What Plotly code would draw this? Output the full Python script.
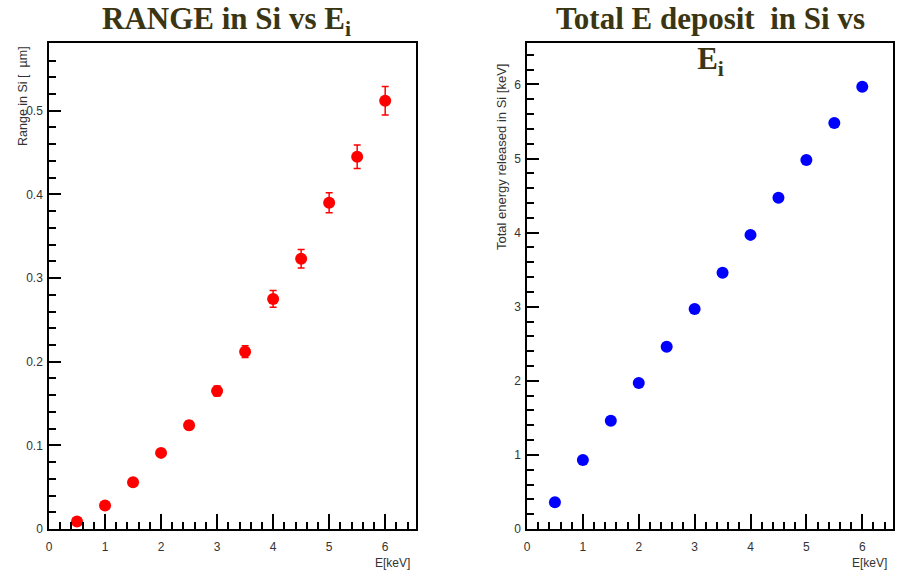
import plotly.graph_objects as go

# ---- data ----
energy = [0.5, 1.0, 1.5, 2.0, 2.5, 3.0, 3.5, 4.0, 4.5, 5.0, 5.5, 6.0]
range_si = [0.009, 0.028, 0.056, 0.091, 0.124, 0.165, 0.212, 0.275, 0.323, 0.390, 0.445, 0.512]
range_err = [0.001, 0.002, 0.003, 0.004, 0.005, 0.006, 0.007, 0.010, 0.011, 0.012, 0.014, 0.017]
edep_si = [0.36, 0.93, 1.46, 1.97, 2.46, 2.97, 3.46, 3.97, 4.47, 4.98, 5.48, 5.97]

left_title = "<b>RANGE in Si vs E<sub>i</sub></b>"
right_title = "<b>Total E deposit&nbsp; in Si vs<br>E<sub>i</sub></b>"
left_ytitle = "Range in Si [  µm]"
right_ytitle = "Total energy released in Si [keV]"
xtitle = "E[keV]"

W, H = 900, 574
def px(x):
    return x / W
def py(y):
    return (H - y) / H

fig = go.Figure()
fig.add_trace(go.Scatter(
    x=energy, y=range_si, mode="markers",
    marker=dict(color="#ff0000", size=12),
    error_y=dict(type="data", array=range_err, color="#ff0000", thickness=1.5, width=3.5),
    xaxis="x", yaxis="y", showlegend=False, cliponaxis=False))
fig.add_trace(go.Scatter(
    x=energy, y=edep_si, mode="markers",
    marker=dict(color="#0000ff", size=12),
    xaxis="x2", yaxis="y2", showlegend=False, cliponaxis=False))

tickfont = dict(family="Liberation Sans, Arial, sans-serif", size=12, color="#333333")
common_x = dict(showline=True, linecolor="black", linewidth=1.5, mirror=True,
                ticks="inside", ticklen=15, tickwidth=1.5, tickcolor="black",
                showgrid=False, zeroline=False, dtick=1, tick0=0, automargin=False,
                tickfont=tickfont, ticklabelstandoff=6,
                minor=dict(dtick=0.2, ticks="inside", ticklen=7, tickwidth=1.5,
                           tickcolor="black", showgrid=False))
common_y = dict(showline=True, linecolor="black", linewidth=1.5, mirror=True,
                ticks="inside", ticklen=12, tickwidth=1.5, tickcolor="black",
                showgrid=False, zeroline=False, automargin=False,
                tickfont=tickfont, ticklabelstandoff=2)

fig.update_layout(
    width=W, height=H,
    margin=dict(l=0, r=0, t=0, b=0, autoexpand=False),
    paper_bgcolor="white", plot_bgcolor="white",
    xaxis=dict(domain=[px(49), px(416)], range=[0, 6.55], anchor="y", **common_x),
    yaxis=dict(domain=[py(529), py(43)], range=[0, 0.581], anchor="x",
               dtick=0.1, tick0=0,
               minor=dict(dtick=0.02, ticks="inside", ticklen=7, tickwidth=1.5,
                          tickcolor="black", showgrid=False),
               **common_y),
    xaxis2=dict(domain=[px(527), px(893)], range=[0, 6.55], anchor="y2", **common_x),
    yaxis2=dict(domain=[py(529), py(43)], range=[0, 6.56], anchor="x2",
                dtick=1, tick0=0,
                minor=dict(dtick=0.2, ticks="inside", ticklen=7, tickwidth=1.5,
                           tickcolor="black", showgrid=False),
                **common_y),
)

title_font = dict(family="Liberation Serif, Times New Roman, serif", size=31, color="#3a3512")

fig.add_annotation(text=left_title, x=px(226), y=py(-1), xref="paper", yref="paper",
                   xanchor="center", yanchor="top", showarrow=False, font=title_font)
fig.add_annotation(text=right_title, x=px(710), y=py(-1), xref="paper", yref="paper",
                   xanchor="center", yanchor="top", showarrow=False, font=title_font,
                   align="center")
fig.add_annotation(text=left_ytitle, x=px(23), y=py(44), xref="paper", yref="paper",
                   xanchor="center", yanchor="top", textangle=-90, showarrow=False,
                   font=dict(family="Liberation Sans, Arial, sans-serif", size=12.5, color="#333333"))
fig.add_annotation(text=right_ytitle, x=px(501), y=py(62), xref="paper", yref="paper",
                   xanchor="center", yanchor="top", textangle=-90, showarrow=False,
                   font=dict(family="Liberation Sans, Arial, sans-serif", size=13, color="#333333"))
fig.add_annotation(text=xtitle, x=px(412), y=py(563), xref="paper", yref="paper",
                   xanchor="right", yanchor="middle", showarrow=False,
                   font=dict(family="Liberation Sans, Arial, sans-serif", size=12, color="#333333"))
fig.add_annotation(text=xtitle, x=px(889), y=py(563), xref="paper", yref="paper",
                   xanchor="right", yanchor="middle", showarrow=False,
                   font=dict(family="Liberation Sans, Arial, sans-serif", size=12, color="#333333"))

fig.write_html("out.html", config={"displayModeBar": False},
               post_script="document.body.style.margin='0';document.body.style.overflow='hidden';")
